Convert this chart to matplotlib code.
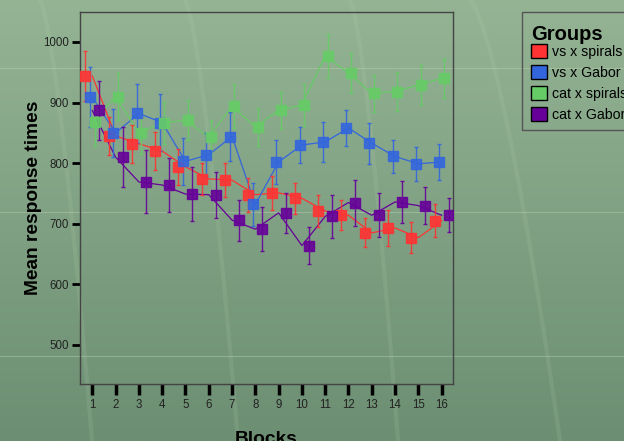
import numpy as np
import matplotlib
matplotlib.use("Agg")
import matplotlib.pyplot as plt
from matplotlib.patches import Patch, Rectangle

plt.rcParams['font.family'] = ['Liberation Sans', 'DejaVu Sans']

# data
blocks = list(range(1, 17))
groups = ['vs x spirals', 'vs x Gabor', 'cat x spirals', 'cat x Gabor']
colors = ['#FF3333', '#3366DD', '#66CC66', '#660099']
dodge = [-0.3, -0.1, 0.1, 0.3]

vs_spirals = [944, 845, 832, 820, 794, 774, 772, 748, 751, 742, 721, 714, 685, 693, 677, 705]
vs_gabor = [909, 850, 882, 867, 803, 814, 844, 732, 802, 830, 835, 858, 833, 811, 799, 802]
cat_spirals = [868, 910, 850, 866, 871, 843, 894, 860, 887, 896, 977, 949, 915, 918, 929, 940]
cat_gabor = [887, 810, 769, 764, 749, 748, 706, 691, 718, 664, 712, 735, 714, 736, 730, 714]

vs_spirals_err = [41, 31, 31, 31, 30, 27, 28, 28, 28, 26, 26, 25, 24, 29, 26, 27]
vs_gabor_err = [50, 40, 49, 47, 39, 35, 40, 36, 36, 30, 33, 30, 34, 28, 28, 30]
cat_spirals_err = [40, 38, 35, 35, 33, 29, 36, 31, 31, 34, 36, 33, 31, 32, 33, 32]
cat_gabor_err = [48, 50, 52, 45, 44, 38, 34, 36, 33, 31, 35, 38, 36, 35, 31, 28]

means = [vs_spirals, vs_gabor, cat_spirals, cat_gabor]
errs = [vs_spirals_err, vs_gabor_err, cat_spirals_err, cat_gabor_err]
yticks = [500, 600, 700, 800, 900, 1000]

fig = plt.figure(figsize=(6.24, 4.41), dpi=100)

# background: green gradient with faint decorative strokes
bg = fig.add_axes([0, 0, 1, 1], zorder=-10)
grad = np.linspace(0, 1, 256).reshape(-1, 1)
top = np.array([148, 180, 148]) / 255
bot = np.array([108, 142, 114]) / 255
img = top[None, None, :] * (1 - grad[:, :, None]) + bot[None, None, :] * grad[:, :, None]
bg.imshow(img, aspect='auto', extent=[0, 1, 0, 1], origin='upper')
for yy in [1 - 68 / 441, 1 - 212 / 441, 1 - 356 / 441]:
    bg.plot([0, 1], [yy, yy], color='#C8E0C0', lw=0.8, alpha=0.35)
t = np.linspace(0, 1, 50)
for x0, x1 in [(40, 92), (185, 238), (470, 560), (350, 398)]:
    xs = (x0 + (x1 - x0) * t ** 0.7) / 624
    bg.plot(xs, 1 - t, color='#B8D4B0', lw=3, alpha=0.15)
bg.set_xlim(0, 1)
bg.set_ylim(0, 1)
bg.axis('off')

ax = fig.add_axes([0.1287, 0.1299, 0.5977, 0.8436])
ax.patch.set_alpha(0)

for m, e, c, d in zip(means, errs, colors, dodge):
    ax.plot(blocks, m, color=c, lw=0.9, zorder=2)
    xd = [b + d for b in blocks]
    ax.errorbar(xd, m, yerr=e, fmt='none', ecolor=c, elinewidth=1,
                capsize=1.5, capthick=1, alpha=0.9, zorder=3)
    ax.plot(xd, m, ls='none', marker='s', markersize=7.4, color=c,
            markeredgecolor=c, alpha=0.9, zorder=4)

ax.set_xlim(0.485, 16.5)
ax.set_ylim(436, 1050)
ax.set_xticks(blocks)
ax.set_yticks(yticks)
ax.tick_params(axis='x', length=8, width=2.5, color='black', labelsize=8.3,
               labelcolor='#222222', pad=3)
ax.tick_params(axis='y', length=6, width=2, color='black', labelsize=8.3,
               labelcolor='#222222', pad=2)
for s in ax.spines.values():
    s.set_color('#444444')
    s.set_linewidth(1)

ax.set_ylabel('Mean response times', fontsize=13.8, fontweight='bold', color='black')
ax.yaxis.set_label_coords(-0.102, 0.5)
fig.text(0.4272, -0.016, 'Blocks', fontsize=13.8, fontweight='bold',
         ha='center', va='bottom')

# legend box (runs off the right edge as in the reference)
fig.patches.append(Rectangle((522 / 624, 1 - 130 / 441), 0.2, 118 / 441,
                             transform=fig.transFigure, fill=False,
                             edgecolor='#555555', lw=1))
handles = [Patch(facecolor=c, edgecolor='black', lw=1) for c in colors]
leg = ax.legend(handles, groups, title='Groups', loc='upper left',
                bbox_to_anchor=(531 / 624, 1 - 25 / 441), bbox_transform=fig.transFigure,
                fontsize=10.2, title_fontproperties={'weight': 'bold', 'size': 14.5},
                frameon=False, handlelength=1.1, handleheight=1.1,
                handletextpad=0.4, labelspacing=0.45, borderpad=0,
                borderaxespad=0)
leg._legend_box.align = 'left'
leg._legend_box.sep = 0

fig.savefig('out.png', dpi=100)
